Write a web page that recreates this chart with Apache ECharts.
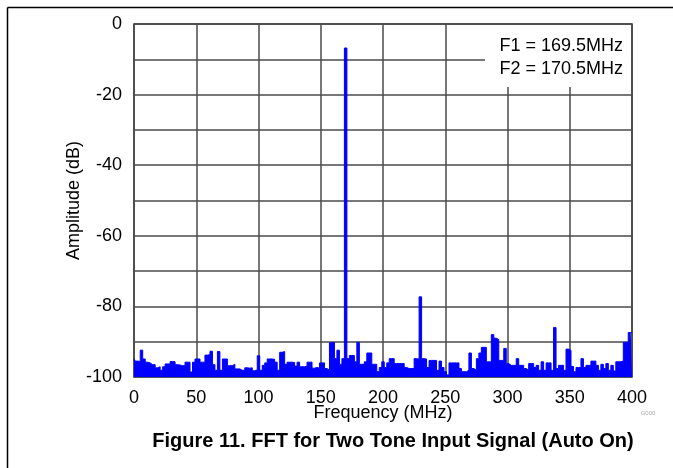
<!DOCTYPE html>
<html><head><meta charset="utf-8">
<script src="https://cdn.jsdelivr.net/npm/echarts@6/dist/echarts.min.js"></script>
<style>html,body{margin:0;padding:0;background:#fff}#c{width:673px;height:468px}</style>
</head><body><div id="c"></div>
<script>
// FFT bins: 0..400 MHz, 2 MHz spacing
const binStartMHz = 0;
const binStepMHz = 2;
const amplitudeDb = [
-94.9,-95.5,-95.6,-92.4,-94.9,-95.8,-96.0,-96.5,-96.5,-97.4,
-97.1,-98.1,-97.1,-96.3,-96.3,-95.6,-95.7,-96.5,-96.6,-96.8,
-96.8,-95.8,-95.8,-98.6,-95.8,-94.9,-94.9,-95.8,-95.8,-93.8,
-93.7,-92.7,-96.5,-98.1,-92.8,-98.1,-94.9,-94.9,-96.8,-96.8,
-96.4,-97.7,-97.7,-98.1,-98.1,-97.4,-97.5,-97.4,-98.2,-98.0,
-94.0,-98.1,-96.7,-96.0,-94.9,-94.9,-95.0,-95.8,-98.1,-93.0,
-92.8,-96.4,-95.8,-95.8,-95.9,-96.9,-95.8,-97.1,-97.1,-96.9,
-95.8,-95.8,-97.5,-97.3,-97.5,-96.0,-96.0,-97.6,-98.1,-90.3,
-90.2,-94.8,-92.4,-96.4,-94.8,-6.8,-94.8,-93.9,-93.9,-95.7,
-90.2,-96.4,-96.4,-95.7,-93.2,-93.2,-96.4,-96.4,-98.5,-97.3,
-95.7,-97.3,-96.0,-94.8,-94.8,-96.2,-96.2,-96.2,-96.2,-97.3,
-97.6,-97.6,-97.6,-94.8,-94.9,-77.3,-94.8,-94.9,-97.3,-95.3,
-95.3,-95.3,-98.1,-95.5,-97.3,-98.5,-99.4,-96.0,-96.0,-96.0,
-96.0,-97.6,-98.5,-98.5,-98.1,-93.2,-97.6,-98.1,-94.8,-93.2,
-91.6,-91.6,-95.7,-95.7,-88.0,-89.0,-89.4,-95.3,-95.3,-91.9,
-96.2,-96.7,-96.7,-96.7,-94.8,-96.7,-96.7,-97.6,-98.1,-96.2,
-96.2,-97.3,-96.7,-98.1,-95.7,-98.1,-96.0,-96.0,-98.1,-86.0,
-97.6,-96.7,-96.7,-98.1,-92.1,-92.5,-97.0,-98.5,-97.3,-97.3,
-94.8,-97.3,-96.7,-96.7,-95.5,-95.5,-96.7,-98.1,-96.4,-97.6,
-96.2,-98.1,-96.7,-98.3,-95.7,-95.7,-95.5,-90.2,-90.2,-87.4,
-87.4
];
const xTickLabels = [0,50,100,150,200,250,300,350,400];
const yTickLabels = [0,-20,-40,-60,-80,-100];
const annotationLines = ['F1 = 169.5MHz','F2 = 170.5MHz'];
const xAxisTitle = 'Frequency (MHz)';
const yAxisTitle = 'Amplitude (dB)';
const captionText = 'Figure 11. FFT for Two Tone Input Signal (Auto On)';
const graphId = 'G000';

const FONT = "'Liberation Sans', Arial, sans-serif";
const seriesData = amplitudeDb.map((v, i) => [binStartMHz + i * binStepMHz, v]);

const chart = echarts.init(document.getElementById('c'), null, {renderer: 'canvas'});
chart.setOption({
  animation: false,
  backgroundColor: '#fff',
  grid: {left: 134, top: 24, right: 41, bottom: 91, show: true, borderColor: '#333', borderWidth: 1.5, backgroundColor: 'transparent'},
  xAxis: {
    type: 'value', min: xTickLabels[0], max: xTickLabels[xTickLabels.length - 1], interval: 50,
    axisLine: {show: false}, axisTick: {show: false},
    splitLine: {show: true, lineStyle: {color: '#4a4a4a', width: 1.5}},
    axisLabel: {fontFamily: FONT, fontSize: 18, color: '#000', margin: 12,
      formatter: v => xTickLabels.includes(v) ? String(v) : ''},
    name: xAxisTitle, nameLocation: 'middle', nameGap: 27, nameMoveOverlap: false,
    nameTextStyle: {fontFamily: FONT, fontSize: 18, color: '#000'}
  },
  yAxis: {
    type: 'value', min: -100, max: 0, interval: 10,
    axisLine: {show: false}, axisTick: {show: false},
    splitLine: {show: true, lineStyle: {color: '#4a4a4a', width: 1.5}},
    axisLabel: {fontFamily: FONT, fontSize: 18, color: '#000', margin: 12, padding: [6, 0, 0, 0],
      formatter: v => yTickLabels.includes(v) ? String(v) : ''},
    name: yAxisTitle, nameLocation: 'middle', nameGap: 51, nameRotate: 90, nameMoveOverlap: false,
    nameTextStyle: {fontFamily: FONT, fontSize: 18, color: '#000'}
  },
  series: [{
    type: 'line', data: seriesData, step: 'middle', symbol: 'none',
    lineStyle: {color: '#0000ff', width: 1},
    areaStyle: {color: '#0000ff', opacity: 1, origin: 'start'},
    z: 3
  }],
  graphic: [
    {type: 'rect', z: 50, shape: {x: 485, y: 25, width: 146, height: 62}, style: {fill: '#fff'}},
    {type: 'text', z: 51, x: 623, y: 35, style: {text: annotationLines.join('\n'), fontFamily: FONT, fontSize: 18, lineHeight: 23, fill: '#000', align: 'right', verticalAlign: 'top'}},
    {type: 'line', z: 60, shape: {x1: 7.5, y1: 7.5, x2: 673, y2: 7.5}, style: {stroke: '#000', lineWidth: 1.5}},
    {type: 'line', z: 60, shape: {x1: 7.5, y1: 7.5, x2: 7.5, y2: 468}, style: {stroke: '#000', lineWidth: 1.5}},
    {type: 'text', z: 60, x: 393, y: 441, style: {text: captionText, fontFamily: FONT, fontSize: 20, fontWeight: 'bold', fill: '#000', align: 'center', verticalAlign: 'middle'}},
    {type: 'text', z: 60, x: 648, y: 413, style: {text: graphId, fontFamily: FONT, fontSize: 6, fill: '#aaa', align: 'center', verticalAlign: 'middle'}}
  ]
});
</script></body></html>
